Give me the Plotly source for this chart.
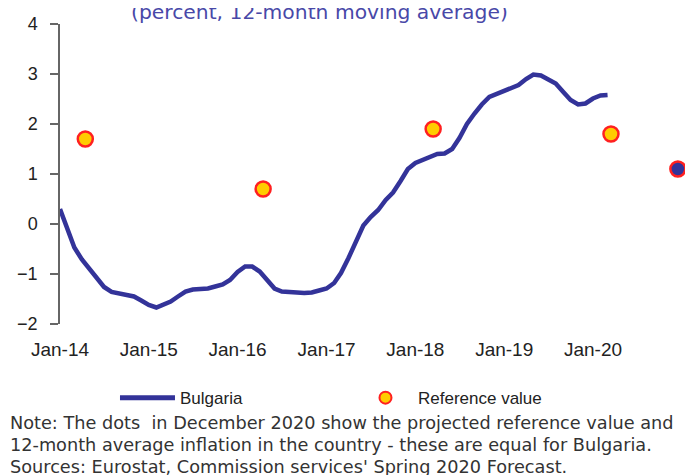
import plotly.graph_objects as go

# ---- data ----
line_dates = [f"{2014 + i // 12}-{i % 12 + 1:02d}-01" for i in range(75)]  # Jan-2014 .. Mar-2020
bulgaria = [
    0.30, -0.10, -0.47, -0.71, -0.89, -1.09, -1.26, -1.36, -1.39, -1.41, -1.45, -1.53,
    -1.62, -1.67, -1.62, -1.55, -1.45, -1.35, -1.31, -1.31, -1.29, -1.25, -1.21, -1.12,
    -0.96, -0.85, -0.85, -0.95, -1.13, -1.29, -1.35, -1.37, -1.37, -1.38, -1.37, -1.33,
    -1.29, -1.18, -0.98, -0.68, -0.35, -0.03, 0.14, 0.28, 0.48, 0.63, 0.86, 1.10,
    1.22, 1.28, 1.34, 1.40, 1.41, 1.50, 1.72, 2.00, 2.21, 2.39, 2.54, 2.60,
    2.65, 2.72, 2.78, 2.90, 2.99, 2.97, 2.89, 2.81, 2.64, 2.48, 2.39, 2.41,
    2.51, 2.57, 2.58,
]
ref_dates = ["2014-04-15", "2016-04-15", "2018-03-15", "2020-03-15"]
ref_values = [1.7, 0.7, 1.9, 1.8]
proj_date = ["2020-12-15"]
proj_value = [1.1]

tick_dates = ["2014-01-01", "2015-01-01", "2016-01-01", "2017-01-01",
              "2018-01-01", "2019-01-01", "2020-01-01"]
tick_labels = ["Jan-14", "Jan-15", "Jan-16", "Jan-17", "Jan-18", "Jan-19", "Jan-20"]
zero_ticks = tick_dates + ["2021-01-01"]
y_ticks = [-2, -1, 0, 1, 2, 3, 4]

title_text = "(percent, 12-month moving average)"
notes = [
    "Note: The dots  in December 2020 show the projected reference value and",
    "12-month average inflation in the country - these are equal for Bulgaria.",
    "Sources: Eurostat, Commission services' Spring 2020 Forecast.",
]

BLUE = "#333399"
X_RANGE = ["2014-01-01", "2021-01-01"]

fig = go.Figure()
fig.add_trace(go.Scatter(
    x=line_dates, y=bulgaria, mode="lines", name="Bulgaria",
    line=dict(color=BLUE, width=4.5), cliponaxis=False,
))
fig.add_trace(go.Scatter(
    x=ref_dates, y=ref_values, mode="markers", name="Reference value",
    marker=dict(color="#FFCC00", size=15, line=dict(color="#FF2020", width=2.5)),
    cliponaxis=False,
))
fig.add_trace(go.Scatter(
    x=proj_date, y=proj_value, mode="markers", showlegend=False,
    marker=dict(color=BLUE, size=15, line=dict(color="#FF2020", width=2.5)),
    cliponaxis=False,
))

tickfont = dict(family="Liberation Sans, Arial, sans-serif", size=18, color="#222222")
notefont = dict(family="DejaVu Sans, sans-serif", size=17.7, color="#333333")

zero_axis = dict(
    overlaying="x", anchor="free", position=1/3, type="date", range=X_RANGE,
    showline=True, linecolor="#111111", linewidth=1.5,
    tickmode="array", tickvals=zero_ticks, showticklabels=False,
    ticklen=6, tickwidth=1.5, tickcolor="#111111", showgrid=False, zeroline=False,
    automargin=False,
)

fig.update_layout(
    width=685, height=467,
    margin=dict(l=52, r=11, t=16, b=151, autoexpand=False),
    paper_bgcolor="white", plot_bgcolor="white",
    showlegend=True,
    legend=dict(
        orientation="h", x=0.0884, y=-0.247, xanchor="left", yanchor="middle",
        font=dict(family="Liberation Sans, Arial, sans-serif", size=17, color="#222222"),
        itemsizing="constant", itemwidth=55, entrywidth=168,
        bgcolor="rgba(0,0,0,0)",
    ),
    xaxis=dict(
        type="date", range=X_RANGE, tickmode="array",
        tickvals=tick_dates, ticktext=tick_labels, ticks="",
        showline=False, showgrid=False, zeroline=False,
        tickfont=dict(tickfont, size=19), ticklabelstandoff=12, automargin=False,
    ),
    xaxis2=dict(zero_axis, ticks="outside"),
    xaxis3=dict(zero_axis, ticks="inside"),
    yaxis=dict(
        range=[-2, 4], tickmode="array", tickvals=y_ticks,
        showline=True, linecolor="#666666", linewidth=1.5,
        ticks="outside", ticklen=8, tickwidth=1.5, tickcolor="#666666",
        showgrid=False, zeroline=False, tickfont=tickfont, ticklabelstandoff=9,
        automargin=False,
    ),
)

fig.add_annotation(
    text=title_text, xref="paper", yref="paper", x=0.418, y=1.04,
    xanchor="center", yanchor="middle", showarrow=False,
    font=dict(family="DejaVu Sans, sans-serif", size=20.3, color="#4848a8"),
)
note_y = [-0.33, -0.404, -0.477]
for txt, yy in zip(notes, note_y):
    fig.add_annotation(
        text=txt, xref="paper", yref="paper", x=-52 / 622, y=yy,
        xanchor="left", yanchor="middle", showarrow=False, font=notefont,
    )

fig.write_html("out.html")
